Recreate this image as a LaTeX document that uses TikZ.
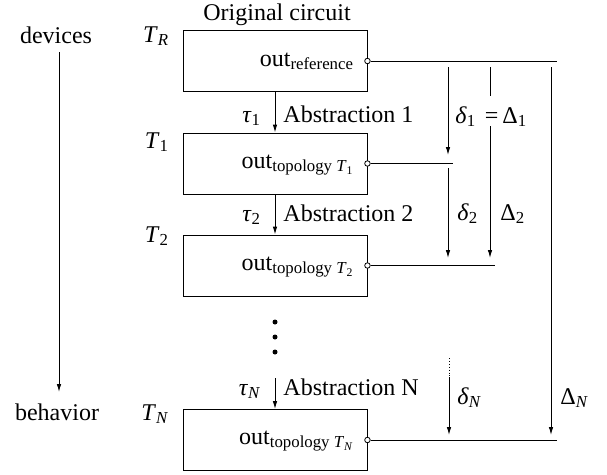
\documentclass[tikz,border=0pt]{standalone}
\usepackage{fontspec}
\setmainfont{Liberation Serif}
\usetikzlibrary{arrows.meta}
\newcommand\sbs[1]{\textsubscript{#1}}
\newcommand\itl[1]{\textit{#1}}
\begin{document}
\begin{tikzpicture}[x=1pt,y=-1pt,line width=0.9pt,
  every node/.style={font=\fontsize{24}{28}\selectfont,inner sep=0pt},
  block/.style={draw,minimum width=184pt,minimum height=61pt},
  port/.style={circle,draw,fill=white,minimum size=5.5pt,inner sep=0pt,line width=0.8pt},
  arr/.style={-{Latex[length=8pt,width=4.5pt]}},
  dotmark/.style={circle,fill,minimum size=5pt,inner sep=0pt}]
\useasboundingbox (0,0) rectangle (607,474);

% abstraction levels
\node[block] (bR) at (275,61) {};
\node[block] (b1) at (275,163.5) {};
\node[block] (b2) at (275,265.5) {};
\node[block] (bN) at (275,440) {};

\node[anchor=base] (title) at (277,20) {Original circuit};

% outputs
\node[anchor=base east] (oR) at (354,66) {out\sbs{reference}};
\node[anchor=base east] (o1) at (354,168) {out\sbs{topology \itl{T}\sbs{1}}};
\node[anchor=base east] (o2) at (354,270) {out\sbs{topology \itl{T}\sbs{2}}};
\node[anchor=base east] (oN) at (354,444) {out\sbs{topology \itl{T}\sbs{\itl{N}}}};

\node[port] (pR) at (bR.east) {};
\node[port] (p1) at (b1.east) {};
\node[port] (p2) at (b2.east) {};
\node[port] (pN) at (bN.east) {};

% output wires
\coordinate (eR) at (557,61);
\coordinate (e1) at (453,163.5);
\coordinate (e2) at (495,265.5);
\coordinate (eN) at (557,440);
\draw (pR) -- (eR);
\draw (p1) -- (e1);
\draw (p2) -- (e2);
\draw (pN) -- (eN);

% abstraction steps
\draw[arr] (bR.south) -- (b1.north);
\draw[arr] (b1.south) -- (b2.north);
\coordinate (tNs) at (275,378);
\draw[arr] (tNs) -- (bN.north);
\node[dotmark] (dA) at (275,322) {};
\node[dotmark] (dB) at (275,337) {};
\node[dotmark] (dC) at (275,352) {};

\node[anchor=base east] (tau1) at (261,122) {\itl{τ}\sbs{1}};
\node[anchor=base west] (abs1) at (283,122) {Abstraction 1};
\node[anchor=base east] (tau2) at (261,221) {\itl{τ}\sbs{2}};
\node[anchor=base west] (abs2) at (283,221) {Abstraction 2};
\node[anchor=base east] (tauN) at (261,395) {\itl{τ}\sbs{\itl{N}}};
\node[anchor=base west] (absN) at (283,395) {Abstraction N};

% differences
\coordinate (d1s) at (448,67);
\coordinate (d1e) at (448,155);
\coordinate (d2s) at (448,168);
\coordinate (d2e) at (448,258);
\coordinate (D1s) at (490,67);
\coordinate (D1e) at (490,96);
\coordinate (D2s) at (490,126);
\coordinate (D2e) at (490,258);
\coordinate (DNs) at (551,67);
\coordinate (DNe) at (551,435);
\coordinate (dNs) at (449,358);
\coordinate (dNm) at (449,377);
\coordinate (dNe) at (449,435);
\draw[arr] (d1s) -- (d1e);
\draw[arr] (d2s) -- (d2e);
\draw (D1s) -- (D1e);
\draw[arr] (D2s) -- (D2e);
\draw[arr] (DNs) -- (DNe);
\draw[dotted] (dNs) -- (dNm);
\draw[arr] (dNm) -- (dNe);

\node[anchor=base west] (lab1) at (455,123) {\itl{δ}\sbs{1}\hspace{9pt}=\hspace{4pt}Δ\sbs{1}};
\node[anchor=base west] (labd2) at (457,220) {\itl{δ}\sbs{2}};
\node[anchor=base west] (labD2) at (500,220) {Δ\sbs{2}};
\node[anchor=base west] (labdN) at (457,404) {\itl{δ}\sbs{\itl{N}}};
\node[anchor=base west] (labDN) at (560,404) {Δ\sbs{\itl{N}}};

% level names
\node[anchor=base east] (TR) at (169,42) {\itl{T}\sbs{\itl{R}}};
\node[anchor=base east] (T1) at (169,148) {\itl{T}\sbs{1}};
\node[anchor=base east] (T2) at (169,242) {\itl{T}\sbs{2}};
\node[anchor=base east] (TN) at (169,420) {\itl{T}\sbs{\itl{N}}};

% direction of abstraction
\node[anchor=base] (dev) at (56,43) {devices};
\node[anchor=base] (beh) at (57,420) {behavior};
\coordinate (arrs) at (59,52);
\coordinate (arre) at (59,392);
\draw[arr] (arrs) -- (arre);
\end{tikzpicture}
\end{document}
